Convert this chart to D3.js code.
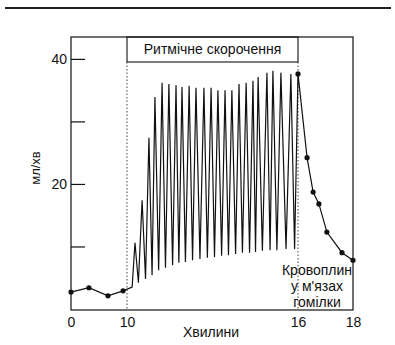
<!DOCTYPE html>
<html>
<head>
<meta charset="utf-8">
<script src="https://cdn.jsdelivr.net/npm/d3@7"></script>
<style>
  html, body { margin: 0; padding: 0; background: #fff; }
  svg { display: block; }
  text { font-family: "Liberation Sans", Arial, sans-serif; fill: #111; }
</style>
</head>
<body>
<svg id="chart" width="395" height="345"></svg>
<script>
// ---- data (minutes, ml/min) ----
const xTicks = [0, 10, 16, 18];
const yTicks = [10, 20, 30, 40];
const yTickLabels = ["", "20", "", "40"];

const restTime = [0, 3.2, 6.6, 9.3];
const restFlow = [2.7, 3.4, 2.1, 2.9];

const onsetTime = [10.18];
const onsetFlow = [3.5];

const peakTime = [10.28, 10.53, 10.77, 10.98, 11.23, 11.47, 11.72, 11.93, 12.18, 12.42, 12.70, 12.95,
                  13.19, 13.44, 13.68, 13.93, 14.18, 14.42, 14.60, 14.91, 15.12, 15.40, 15.75];
const peakFlow = [10.6, 17.4, 27.4, 33.9, 36.2, 36.0, 35.8, 35.5, 35.7, 35.4, 35.4, 35.4,
                  35.0, 35.0, 35.0, 36.0, 36.2, 36.5, 37.1, 37.8, 38.1, 37.8, 37.6];
const troughTime = [10.40, 10.65, 10.88, 11.11, 11.35, 11.60, 11.82, 12.05, 12.30, 12.56, 12.82, 13.07,
                    13.32, 13.56, 13.81, 14.05, 14.30, 14.51, 14.75, 15.02, 15.26, 15.58, 15.88];
const troughFlow = [4.2, 4.8, 5.4, 6.2, 6.6, 7.0, 7.4, 7.5, 7.8, 8.0, 8.2, 8.3,
                    8.5, 8.6, 8.8, 9.0, 9.0, 9.1, 9.3, 9.4, 9.4, 9.6, 9.6];

const recoveryTime = [16, 16.33, 16.55, 16.76, 17.05, 17.6, 18];
const recoveryFlow = [37.6, 24.2, 18.7, 16.8, 12.3, 9.0, 7.8];

const contractionStart = 10, contractionEnd = 16;
const bandLabel = "Ритмічне скорочення";
const xLabel = "Хвилини";
const yLabel = "мл/хв";
const noteLines = ["Кровоплин", "у м'язах", "гомілки"];

// ---- build series ----
const linePts = [];
restTime.forEach((t, i) => linePts.push([t, restFlow[i]]));
onsetTime.forEach((t, i) => linePts.push([t, onsetFlow[i]]));
peakTime.forEach((t, i) => {
  linePts.push([t, peakFlow[i]]);
  linePts.push([troughTime[i], troughFlow[i]]);
});
recoveryTime.forEach((t, i) => linePts.push([t, recoveryFlow[i]]));
const dotPts = restTime.map((t, i) => [t, restFlow[i]])
  .concat(recoveryTime.map((t, i) => [t, recoveryFlow[i]]));

// ---- layout ----
const svg = d3.select("#chart");
const plotLeft = 71, plotRight = 353, plotTop = 37, plotBottom = 310;

// broken (piecewise) time axis
const x = d3.scaleLinear().domain([0, 10, 16, 18]).range([71, 127, 298, 353]);
const y = d3.scaleLinear().domain([0, 43.5]).range([309, 37]);

// top rule
svg.append("line").attr("x1", 5).attr("x2", 391).attr("y1", 8).attr("y2", 8)
  .attr("stroke", "#222").attr("stroke-width", 2);

// plot frame
svg.append("rect").attr("x", plotLeft).attr("y", plotTop)
  .attr("width", plotRight - plotLeft).attr("height", plotBottom - plotTop)
  .attr("fill", "none").attr("stroke", "#111").attr("stroke-width", 1.2);

// label box for the contraction period
const bandBottom = 62;
svg.append("rect").attr("x", x(contractionStart)).attr("y", plotTop)
  .attr("width", x(contractionEnd) - x(contractionStart)).attr("height", bandBottom - plotTop)
  .attr("fill", "none").attr("stroke", "#111").attr("stroke-width", 1.1);
svg.append("text").attr("x", (x(contractionStart) + x(contractionEnd)) / 2).attr("y", 54)
  .attr("text-anchor", "middle").attr("font-size", 14).text(bandLabel);

// dotted boundaries
[contractionStart, contractionEnd].forEach(t => {
  svg.append("line").attr("x1", x(t)).attr("x2", x(t))
    .attr("y1", bandBottom).attr("y2", plotBottom)
    .attr("stroke", "#444").attr("stroke-width", 1).attr("stroke-dasharray", "1.5,2");
});

// y axis (inward ticks)
const yAxis = d3.axisLeft(y).tickValues(yTicks).tickSize(-14).tickPadding(4)
  .tickFormat((d, i) => yTickLabels[i]);
const gy = svg.append("g").attr("transform", `translate(${plotLeft},0)`).call(yAxis);
gy.select(".domain").remove();
gy.selectAll(".tick line").attr("stroke", "#111").attr("stroke-width", 1.2);
gy.selectAll(".tick text").attr("font-size", 14).attr("fill", "#111")
  .style("font-family", "'Liberation Sans', Arial, sans-serif");

// x axis
const xAxis = d3.axisBottom(x).tickValues(xTicks).tickSize(0).tickPadding(7)
  .tickFormat(d3.format("d"));
const gx = svg.append("g").attr("transform", `translate(0,${plotBottom})`).call(xAxis);
gx.select(".domain").remove();
gx.selectAll(".tick text").attr("font-size", 14).attr("fill", "#111")
  .style("font-family", "'Liberation Sans', Arial, sans-serif");

// axis titles
svg.append("text").attr("x", 211).attr("y", 337).attr("text-anchor", "middle")
  .attr("font-size", 14).text(xLabel);
svg.append("text").attr("transform", "translate(39.5,168) rotate(-90)")
  .attr("text-anchor", "middle").attr("font-size", 13).text(yLabel);

// annotation
noteLines.forEach((s, i) => {
  svg.append("text").attr("x", 317).attr("y", 275 + i * 16)
    .attr("text-anchor", "middle").attr("font-size", 14).text(s);
});

// flow line
svg.append("path").datum(linePts)
  .attr("d", d3.line().x(d => x(d[0])).y(d => y(d[1])))
  .attr("fill", "none").attr("stroke", "#111").attr("stroke-width", 1.2)
  .attr("stroke-linejoin", "miter").attr("stroke-miterlimit", 10);

// markers
svg.selectAll("circle.pt").data(dotPts).enter().append("circle")
  .attr("class", "pt").attr("cx", d => x(d[0])).attr("cy", d => y(d[1]))
  .attr("r", 2.6).attr("fill", "#111");
</script>
</body>
</html>
